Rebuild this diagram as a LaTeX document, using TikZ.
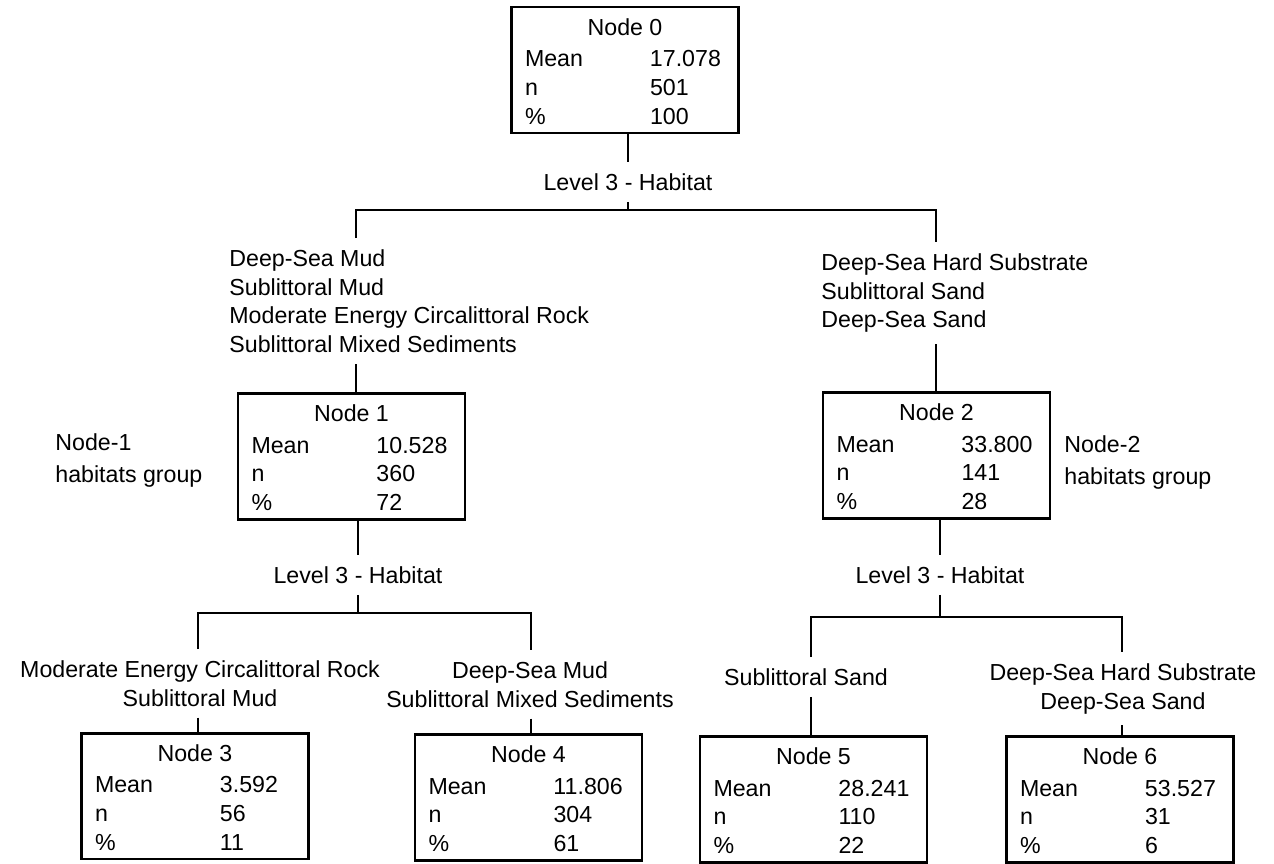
\documentclass[tikz,border=0pt]{standalone}
\usepackage{fontspec}
\setmainfont{Liberation Sans}
\usepackage{tikz}
\newcommand{\statrows}[4]{%
  \begin{tabular}{@{}p{2.5cm}@{}p{1.5cm}@{}}
    \multicolumn{2}{@{}c@{}}{\rule{0pt}{16pt}#1}\\[1.5pt]
    Mean & #2\\
    n & #3\\
    \% & #4
  \end{tabular}}

\begin{document}
\begin{tikzpicture}[
  x=0.02cm,y=-0.02cm,
  font=\fontsize{13.2}{16.4}\selectfont,
  line width=1.6pt,
  statbox/.style={draw,minimum width=4.54cm,minimum height=2.5cm,inner sep=0pt},
  split/.style={inner xsep=0pt,inner ysep=0.2cm},
  habl/.style={inner xsep=0pt,inner ysep=0.2cm,align=left,anchor=north west},
  habc/.style={inner xsep=0pt,inner ysep=0.2cm,align=center,anchor=north},
  side/.style={inner sep=0pt,align=left,anchor=north west}
]
\path[use as bounding box,fill=white] (0,0) rectangle (1274,863);

% Node boxes: mean, count and share of the samples.
\foreach \k/\x/\y/\m/\cnt/\pct in {0/625/70/17.078/501/100,
    1/351.5/456.5/10.528/360/72, 2/936.5/455.5/33.800/141/28,
    3/195/796/3.592/56/11, 4/528.5/797.5/11.806/304/61,
    5/813.5/799.5/28.241/110/22, 6/1120/799.5/53.527/31/6}
  \node[statbox] (n\k) at (\x,\y) {\statrows{Node \k}{\m}{\cnt}{\pct}};

% First split.
\node[split] (s0) at (628,182) {Level 3 - Habitat};
\coordinate (bar0) at (628,210);
\coordinate (bar0l) at (356,210);
\coordinate (bar0r) at (936,210);
\node[habl] (g1) at (228,238)
  {Deep-Sea Mud\\Sublittoral Mud\\Moderate Energy Circalittoral Rock\\Sublittoral Mixed Sediments};
\node[habl] (g2) at (820,242)
  {Deep-Sea Hard Substrate\\Sublittoral Sand\\Deep-Sea Sand};
\draw (n0.south -| s0) -- (s0);
\draw (s0) -- (bar0);
\draw (bar0l |- g1.north) -- (bar0l) -- (bar0r) -- (bar0r |- g2.north);
\draw (bar0l |- g1.south) -- (bar0l |- n1.north);
\draw (bar0r |- g2.south) -- (bar0r |- n2.north);

\node[side] (side1) at (54,432) {Node-1\\[0.06cm]habitats group};
\node[side] (side2) at (1063,434) {Node-2\\[0.06cm]habitats group};

% Split of the Node-1 habitats.
\node[split] (s1) at (358,575) {Level 3 - Habitat};
\coordinate (bar1) at (358,613);
\coordinate (bar1l) at (198,613);
\coordinate (bar1r) at (531,613);
\node[habc] (l3) at (200,649) {Moderate Energy Circalittoral Rock\\Sublittoral Mud};
\node[habc] (l4) at (530,650) {Deep-Sea Mud\\Sublittoral Mixed Sediments};
\draw (n1.south -| s1) -- (s1);
\draw (s1) -- (bar1);
\draw (bar1l |- l3.north) -- (bar1l) -- (bar1r) -- (bar1r |- l4.north);
\draw (bar1l |- l3.south) -- (bar1l |- n3.north);
\draw (bar1r |- l4.south) -- (bar1r |- n4.north);

% Split of the Node-2 habitats.
\node[split] (s2) at (940,575) {Level 3 - Habitat};
\coordinate (bar2) at (940,617);
\coordinate (bar2l) at (811,617);
\coordinate (bar2r) at (1122,617);
\node[habc] (l5) at (806,657) {Sublittoral Sand};
\node[habc] (l6) at (1123,652) {Deep-Sea Hard Substrate\\Deep-Sea Sand};
\draw (n2.south -| s2) -- (s2);
\draw (s2) -- (bar2);
\draw (bar2l |- l5.north) -- (bar2l) -- (bar2r) -- (bar2r |- l6.north);
\draw (bar2l |- l5.south) -- (bar2l |- n5.north);
\draw (bar2r |- l6.south) -- (bar2r |- n6.north);
\end{tikzpicture}
\end{document}
